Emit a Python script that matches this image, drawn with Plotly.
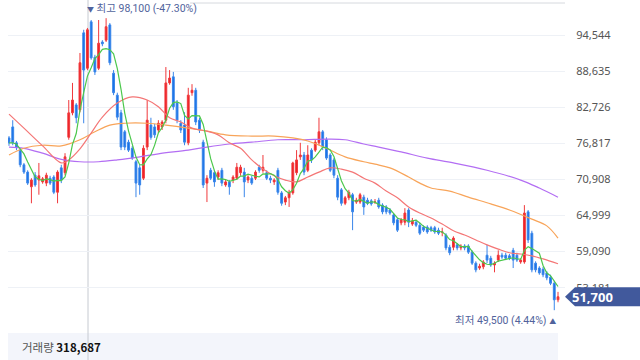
import plotly.graph_objects as go
import pandas as pd

opens = [77700,79500,76900,75700,73300,72100,69700,71600,70800,70500,
         70300,71100,71300,68800,72800,72000,77800,81800,83100,82300,
         94900,89100,96700,90900,89100,93400,93700,96200,88300,84700,
         81800,78700,77000,76000,73800,72800,71100,76200,79800,79500,
         79000,79500,80600,86700,87700,83400,80100,79800,76900,85100,
         85500,80600,77000,70300,72400,72000,71300,72400,70000,70500,
         70800,71100,72000,72100,70800,71100,71100,72900,72400,72000,
         71100,70500,72400,68700,67200,67900,68700,72000,74600,74900,
         72400,75700,75700,76900,78700,77400,74900,74100,71100,69200,
         67000,67900,68400,67200,67200,68000,67500,67400,67200,67500,
         66700,66400,65900,65100,64300,63800,63900,65900,63600,63900,
         63400,63100,63100,63000,63000,62600,62300,61800,59800,59800,
         60200,59700,60000,60000,59000,57200,56400,56600,58500,58000,
         56900,57700,58500,58500,58400,59300,58500,57400,57400,65600,
         62100,57200,56400,56200,55600,54900,53900,51200]
closes = [76900,76900,76200,73300,72100,70300,70800,70000,71500,71000,
          71600,70300,68800,72100,70800,74600,81800,83900,81000,90000,
          88800,95400,90800,88500,93200,93100,95900,90000,85100,81100,
          76200,76200,75700,74400,70300,70000,76000,80600,77800,78200,
          80100,80300,86700,87500,82800,80600,79000,77000,84700,85500,
          80300,79000,70000,71100,71100,70500,72000,70300,70500,69700,
          71300,72900,72900,70500,71300,70300,72100,72400,72900,71100,
          70800,70800,68800,67000,67900,68800,73600,74100,74900,72100,
          74900,74100,77000,78700,76200,74400,72400,71600,68000,67000,
          67900,68800,65600,67500,68400,66400,67000,66900,67200,66400,
          65600,65600,65400,63800,62600,64300,65400,63900,64100,63400,
          62100,62600,62300,62600,62300,62100,62300,59700,58900,61300,
          59700,60000,59700,59000,57200,56100,56700,57400,57700,56900,
          57200,58500,58200,58000,58000,57700,57700,57700,65400,61000,
          56100,56100,55600,55300,54800,53900,51200,51700]
highs = [78000,80600,77200,76000,73600,72400,71100,72100,73600,71300,
         72000,71500,71600,72400,73300,75200,83900,86700,83400,91600,
         95400,95700,97000,91300,97000,93700,97300,96500,88800,85100,
         82300,79000,77400,76400,74100,73300,76500,83900,81000,80000,
         80600,80600,89300,88800,88500,83900,80600,81900,85900,86500,
         85900,81000,77400,71600,72800,72400,72400,72800,70800,70800,
         71600,73600,73300,72800,71600,71500,72400,73300,74900,72400,
         71500,71100,72800,69000,68200,69200,73800,75700,76900,75400,
         76500,76000,77400,81000,79000,77800,75200,74400,71600,69500,
         68200,69200,68700,67900,68700,68400,67900,67700,67700,67900,
         67000,66700,66200,65400,64600,64600,66200,66200,64600,64300,
         63800,63400,63400,63300,63300,63000,63000,62100,60200,61600,
         60500,60300,60300,60300,59300,57500,57100,57700,60200,58400,
         57500,59300,58900,58900,58700,59700,58900,58000,66700,65900,
         62500,57500,56700,56600,55900,55300,54300,52500]
lows = [76400,76500,75700,72900,71800,70000,67000,69700,68400,70200,
        69800,70000,68500,67000,70300,71600,77400,81400,80100,81900,
        80100,88800,90500,88000,88800,92700,93400,89600,84700,80600,
        75700,75700,75400,74100,68000,68400,70800,75700,77400,77700,
        78500,79000,80100,86400,82300,80100,78500,76500,76500,84600,
        79800,78500,69500,67200,70800,69700,70800,69800,69700,68400,
        70300,70800,71500,68000,70300,70000,70800,72000,72000,70800,
        70300,70000,68400,66600,66700,66400,68400,71600,74100,71600,
        72100,73600,75400,76500,75700,74100,72100,71100,67500,66600,
        66700,67500,62600,66900,66900,65100,66700,66600,66900,66100,
        65200,65200,65100,63400,62300,63400,63400,63100,63300,63100,
        61800,62300,62000,62300,62000,61800,61600,59300,58500,59300,
        59300,59300,59300,58700,56900,55700,56100,56200,57200,56600,
        55700,57400,57900,57700,57700,56400,57400,57100,57100,60500,
        55700,55700,55300,54900,54400,53600,49500,50800]

# moving averages (1-based candle number, price)
ma20_idx = [1,5,10,15,17,20,23,26,30,34,38,41,44,47,50,54,57,60,63,66,69,72,75,78,81,84,87,90,93,96,
            99,102,105,108,111,114,117,120,123,126,129,132,135,138,141,144,148]
ma20_val = [81600,79300,76400,73600,74100,75900,78500,81100,83400,84400,83900,82800,81000,80300,79300,
            78800,78200,76900,76000,74100,72600,71500,70800,70500,71300,72100,72800,72600,72100,71100,
            70300,69000,67900,66400,65400,64600,63600,62500,61800,61000,60200,59500,58900,58700,58400,
            57900,57100]
ma60_idx = [1,5,10,15,20,24,28,32,38,43,49,54,59,66,72,77,81,86,91,96,99,103,108,111,114,119,124,130,135,141,145,148]
ma60_val = [74900,76000,76500,76400,77400,78700,79800,80100,80100,79800,79300,78800,78200,78000,78000,
            77700,77200,76000,74600,73800,73400,72800,71300,70300,69500,69000,68000,66900,65900,64400,
            63300,61300]
ma120_idx = [1,5,10,15,20,25,30,36,41,49,54,60,66,73,80,86,91,96,100,106,113,120,129,138,143,148]
ma120_val = [76200,76000,75200,74200,73800,73800,74100,74600,75100,75700,76200,76700,77000,77400,77400,
             77500,77400,76700,76200,75400,74400,73600,72400,70800,69500,68000]

price_ticks = [94544, 88635, 82726, 76817, 70908, 64999, 59090, 53181]
high_label = "98,100 (-47.30%)"
low_label = "49,500 (4.44%)"
volume_label = "318,687"

idx = list(range(len(closes)))
ma5 = pd.Series(closes).rolling(5, min_periods=1).mean()

W, H = 640, 360
fig = go.Figure()

fig.add_trace(go.Candlestick(
    x=idx, open=opens, high=highs, low=lows, close=closes,
    increasing=dict(line=dict(color="#f0393c", width=1), fillcolor="#ee1f24"),
    decreasing=dict(line=dict(color="#3a86ea", width=1), fillcolor="#1570e6"),
    whiskerwidth=0, hoverinfo="skip", showlegend=False))

def ma_trace(ix, vals, color, spline=True):
    return go.Scatter(x=[i - 1 for i in ix], y=vals, mode="lines",
                      line=dict(color=color, width=1.2, shape="spline" if spline else "linear", smoothing=1.0),
                      hoverinfo="skip", showlegend=False)

fig.add_trace(ma_trace(ma120_idx, ma120_val, "#b36ef3"))
fig.add_trace(ma_trace(ma60_idx, ma60_val, "#f8a459"))
fig.add_trace(ma_trace(ma20_idx, ma20_val, "#f47676"))
fig.add_trace(go.Scatter(x=idx, y=ma5, mode="lines", line=dict(color="#4cc84c", width=1.2),
                         hoverinfo="skip", showlegend=False))

last = closes[-1]
half = 1555
shapes = [
    dict(type="rect", xref="paper", yref="paper", x0=8/W, x1=558/W, y0=0, y1=27/H,
         fillcolor="#f3f5fb", line=dict(width=0), layer="below"),
    dict(type="line", xref="paper", yref="paper", x0=88/W, x1=88/W, y0=0, y1=1,
         line=dict(color="#c6cad1", width=1), layer="below"),
    dict(type="line", xref="paper", yref="paper", x0=190/W, x1=565/W, y0=1-3/H, y1=1-3/H,
         line=dict(color="#d6d9de", width=1), layer="below"),
    dict(type="path", xref="paper", yref="y",
         path=f"M {565/W},{last} L {575/W},{last+half} L 1,{last+half} L 1,{last-half} L {575/W},{last-half} Z",
         fillcolor="#41599c", line=dict(width=0), layer="above"),
]

lab_font = "Roboto, Noto Sans CJK KR"
annotations = [
    dict(xref="paper", yref="y", x=592/W, y=last, text=f"<b>{last:,}</b>", showarrow=False,
         xanchor="center", yanchor="middle", font=dict(color="white", size=13, family="Noto Sans")),
    dict(xref="paper", yref="paper", x=85/W, y=1-8/H, xanchor="left", yanchor="middle", showarrow=False,
         text=f"<span style='font-size:7px'>▼</span> 최고 {high_label}",
         font=dict(color="#51639c", size=10.5, family=lab_font)),
    dict(xref="paper", yref="paper", x=558/W, y=1-320/H, xanchor="right", yanchor="middle", showarrow=False,
         text=f"최저 {low_label} <span style='font-size:7px'>▲</span>",
         font=dict(color="#51639c", size=10.5, family=lab_font)),
    dict(xref="paper", yref="paper", x=20/W, y=1-347/H, xanchor="left", yanchor="middle", showarrow=False,
         text=f"<span style='color:#555'>거래량</span> <b>{volume_label}</b>",
         font=dict(color="#111", size=11.5, family="Noto Sans CJK KR")),
    dict(xref="paper", yref="paper", x=575/W, y=1-357/H, xanchor="left", yanchor="top", showarrow=False,
         text="310만", borderpad=0, font=dict(color="#555", size=11, family="Noto Sans CJK KR")),
]

x0 = -1/3.7347
fig.update_layout(
    width=W, height=H, margin=dict(l=0, r=0, t=0, b=0),
    paper_bgcolor="white", plot_bgcolor="white",
    shapes=shapes, annotations=annotations, hovermode=False,
    xaxis=dict(domain=[8/W, 565/W], range=[x0, x0 + 557/3.7347], showticklabels=False,
               showgrid=False, zeroline=False, rangeslider=dict(visible=False), fixedrange=True),
    yaxis=dict(domain=[30/H, 357/H], range=[46258, 99782], side="right",
               tickvals=price_ticks, ticktext=[f"{v:,}" for v in price_ticks],
               showgrid=True, gridcolor="#eef1f6", gridwidth=1, zeroline=False,
               ticks="outside", ticklen=8, tickcolor="rgba(0,0,0,0)",
               tickfont=dict(size=11, color="#555", family="Noto Sans"), fixedrange=True),
)

fig.write_html("out.html", config={"displayModeBar": False},
               post_script="document.body.style.margin='0';document.body.style.overflow='hidden';")
